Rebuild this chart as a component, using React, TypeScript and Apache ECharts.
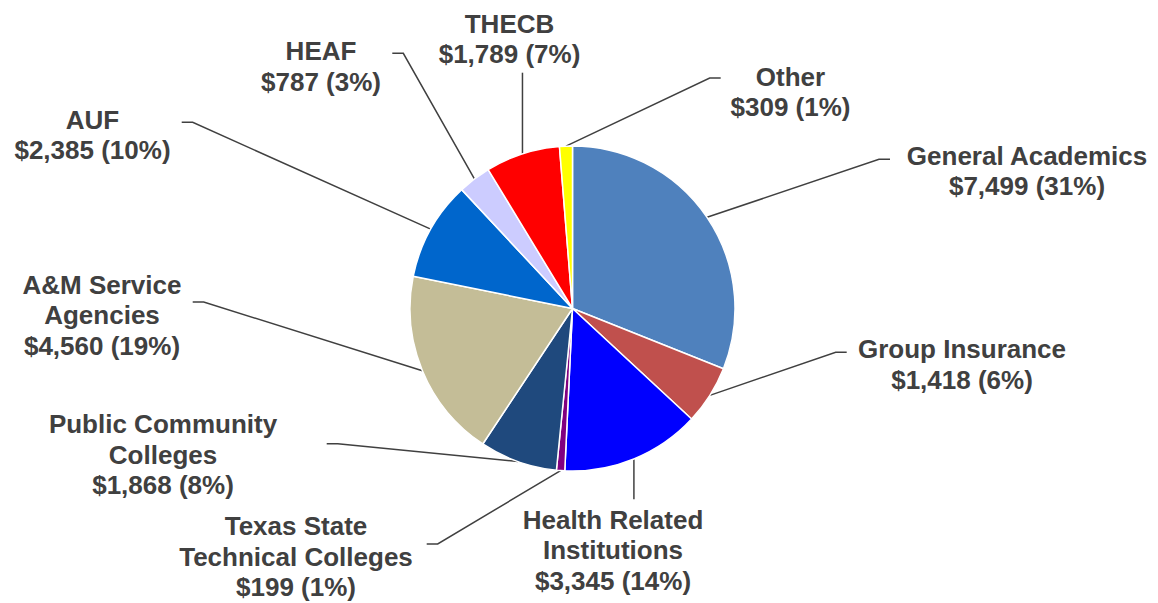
import React, { useEffect, useRef } from "react";
import * as echarts from "echarts";

// ---- data ----
const categories = [
  "General Academics",
  "Group Insurance",
  "Health Related\nInstitutions",
  "Texas State\nTechnical Colleges",
  "Public Community\nColleges",
  "A&M Service\nAgencies",
  "AUF",
  "HEAF",
  "THECB",
  "Other",
];
const values = [7499, 1418, 3345, 199, 1868, 4560, 2385, 787, 1789, 309];
const colors = [
  "#4F81BD",
  "#C0504D",
  "#0000FF",
  "#800080",
  "#1F497D",
  "#C4BD97",
  "#0066CC",
  "#CCCCFF",
  "#FF0000",
  "#FFFF00",
];

// ---- label layout (not data) ----
// label block: [centerX, centerY of first text line]
const labelPos: number[][] = [
  [1027, 155.5],
  [962, 349],
  [613, 519.5],
  [296, 526],
  [163, 424],
  [102, 284.5],
  [92.5, 119.7],
  [321, 51],
  [509.5, 23.5],
  [790.5, 76.5],
];
// leader line end near label: [x, y, dir] (1: label to the right, -1: label to the left, 0: vertical)
const leaderEnd: number[][] = [
  [890, 159.3, 1],
  [846.7, 352.3, 1],
  [634, 499.3, 0],
  [426.7, 544, -1],
  [326.7, 443.7, -1],
  [192.7, 302, -1],
  [181.7, 122.3, -1],
  [392.3, 53.3, -1],
  [522.3, 72.7, 0],
  [720.7, 78, 1],
];
const LINE_H = 30.5;
const STUB = 11;

export default function App() {
  const ref = useRef<HTMLDivElement>(null);
  useEffect(() => {
    if (!ref.current) return;
    const chart = echarts.init(ref.current, undefined, { renderer: "svg" });
    chart.setOption({
      animation: false,
      backgroundColor: "#ffffff",
      series: [
        {
          type: "pie",
          center: [572.5, 308.5],
          radius: 162.5,
          startAngle: 90,
          clockwise: true,
          avoidLabelOverlap: false,
          emphasis: { disabled: true },
          itemStyle: { borderColor: "#ffffff", borderWidth: 1.5 },
          data: values.map((v, i) => ({
            name: categories[i],
            value: v,
            itemStyle: { color: colors[i] },
          })),
          label: {
            show: true,
            position: "outside",
            formatter: (p: any) =>
              `${p.name}\n$${Number(p.value).toLocaleString("en-US")} (${Math.round(p.percent)}%)`,
            fontFamily: '"Liberation Sans", Arial, sans-serif',
            fontWeight: "bold",
            fontSize: 26,
            lineHeight: LINE_H,
            color: "#404040",
            overflow: "none",
          },
          labelLine: {
            show: true,
            length: 20,
            length2: 10,
            lineStyle: { color: "#404040", width: 1.5 },
          },
          labelLayout: (params: any) => {
            const i = params.dataIndex;
            const [cx, ly] = labelPos[i];
            const [ex, ey, dir] = leaderEnd[i];
            const pts = params.labelLinePoints;
            const a = pts && pts[0] ? pts[0] : [ex, ey];
            let line: number[][];
            if (dir === 0) {
              line = [
                [a[0], a[1]],
                [a[0], ey],
                [a[0], ey],
              ];
            } else {
              line = [
                [a[0], a[1]],
                [ex - dir * STUB, ey],
                [ex, ey],
              ];
            }
            return {
              x: cx,
              y: ly - LINE_H / 2,
              align: "center",
              verticalAlign: "top",
              labelLinePoints: line,
            };
          },
        },
      ],
    });
    return () => chart.dispose();
  }, []);
  return (
    <div
      ref={ref}
      style={{ position: "fixed", left: 0, top: 0, width: 1158, height: 603, background: "#fff" }}
    />
  );
}
